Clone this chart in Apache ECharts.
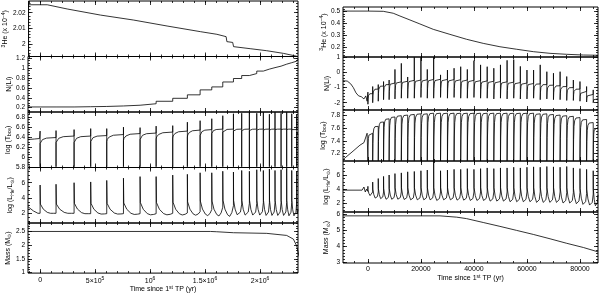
<!DOCTYPE html>
<html><head><meta charset="utf-8">
<script src="https://cdn.jsdelivr.net/npm/echarts@6/dist/echarts.min.js"></script>
<style>html,body{margin:0;padding:0;background:#fff}#c{width:600px;height:294px}</style>
</head><body><div id="c"></div>
<script>
// ---------------- DATA ----------------
const LX_TICKS = [0, 500000, 1000000, 1500000, 2000000];
const LX_LABELS = ['0', '5×10{sup|5}', '10{sup|6}', '1.5×10{sup|6}', '2×10{sup|6}'];
const RX_TICKS = [0, 20000, 40000, 60000, 80000];
const RX_LABELS = ['0', '20000', '40000', '60000', '80000'];

const L_HE3_T = [-110000, 60000, 242000, 545000, 848000, 1152000, 1455000, 1606000, 1690000, 1697000, 1750000, 1758000, 1909000, 2060000, 2212000, 2345000];
const L_HE3_V = [2.0251, 2.0251, 2.0224, 2.0185, 2.0153, 2.0115, 2.0079, 2.0062, 2.0047, 2.0015, 2.001, 1.9983, 1.997, 1.9957, 1.994, 1.992];

const L_TP = [0, 145000, 309000, 460000, 606000, 758000, 909000, 1055000, 1206000, 1339000, 1455000, 1561000, 1661000, 1758000, 1833000, 1903000, 1970000, 2030000, 2085000, 2136000, 2191000, 2242000, 2288000, 2333000];
const L_LI_START = 0.215;
const L_LI = [0.215, 0.215, 0.22, 0.225, 0.235, 0.25, 0.28, 0.33, 0.39, 0.46, 0.56, 0.62, 0.72, 0.79, 0.85, 0.89, 0.94, 0.98, 1.01, 1.04, 1.08, 1.11, 1.14, 1.18];
const L_TB_START = [[-110000, 6.35], [-50000, 6.36], [-5000, 6.37]];
const L_TB_UP = [6.52, 6.53, 6.55, 6.57, 6.57, 6.6, 6.59, 6.62, 6.63, 6.7, 6.73, 6.77, 6.83, 6.87, 6.88, 6.9, 6.88, 6.9, 6.86, 6.9, 6.88, 6.9, 6.87, 6.85];
const L_TB_DIP = [5.8, 5.8, 5.8, 5.8, 5.8, 5.8, 5.8, 5.8, 5.8, 5.8, 5.8, 5.8, 5.8, 5.8, 5.8, 5.8, 5.8, 5.8, 5.8, 5.8, 5.8, 5.8, 5.8, 5.8];
const L_TB_AFTER = [6.27, 6.29, 6.29, 6.31, 6.31, 6.33, 6.35, 6.36, 6.38, 6.4, 6.43, 6.47, 6.5, 6.52, 6.53, 6.53, 6.54, 6.54, 6.54, 6.55, 6.55, 6.55, 6.55, 6.5];
const L_TB_BEFORE = [6.39, 6.42, 6.42, 6.43, 6.45, 6.47, 6.48, 6.5, 6.52, 6.54, 6.55, 6.56, 6.56, 6.56, 6.56, 6.56, 6.56, 6.56, 6.56, 6.56, 6.56, 6.56, 6.55, 6.45];
const L_LH_START = [[-110000, 2.86], [-60000, 2.3], [-20000, 2.0]];
const L_LH_PEAK = [5.7, 5.8, 6.0, 6.1, 6.3, 6.6, 6.8, 6.8, 7.0, 7.1, 7.3, 7.3, 7.5, 7.4, 7.6, 7.5, 7.7, 7.6, 7.8, 7.6, 7.7, 7.9, 7.6, 7.5];
const L_LH_POST = [3.2, 3.2, 3.3, 3.3, 3.3, 3.35, 3.4, 3.4, 3.45, 3.5, 3.6, 3.6, 3.7, 3.7, 3.7, 3.7, 3.7, 3.7, 3.7, 3.7, 3.7, 3.7, 3.7, 3.6];
const L_LH_LOW = [2.0, 2.0, 1.95, 1.9, 1.9, 1.85, 1.8, 1.8, 1.78, 1.75, 1.7, 1.65, 1.6, 1.6, 1.55, 1.55, 1.55, 1.5, 1.5, 1.5, 1.5, 1.45, 1.45, 1.8];
const L_LH_PRE = [2.0, 2.0, 1.95, 1.95, 1.95, 1.95, 1.95, 2.0, 2.05, 2.2, 2.5, 2.8, 3.0, 3.2, 3.3, 3.3, 3.4, 3.4, 3.4, 3.4, 3.4, 3.4, 3.4, 2.5];
const L_M_T = [-110000, 1550000, 1606000, 1758000, 2061000, 2242000, 2303000, 2333000, 2355000];
const L_M_V = [2.5, 2.5, 2.49, 2.454, 2.43, 2.355, 2.22, 1.97, 1.58];

const R_HE3_T = [-9400, 0, 5800, 9550, 12075, 15850, 19600, 24650, 30940, 37230, 43500, 49800, 56100, 62400, 68700, 75000, 81300, 86800];
const R_HE3_V = [0.505, 0.505, 0.503, 0.487, 0.464, 0.431, 0.398, 0.353, 0.311, 0.27, 0.236, 0.208, 0.187, 0.167, 0.153, 0.145, 0.139, 0.137];

const R_TP = [0, 1800, 3900, 5900, 8000, 10200, 12600, 15000, 17500, 20000, 22400, 24800, 27400, 30000, 32500, 35000, 37500, 40000, 42500, 45000, 47500, 50000, 52500, 55000, 57500, 60000, 62500, 65000, 67500, 70000, 72500, 75000, 77500, 80000, 82500, 85000];

const R_LI_START = [[-9400, -0.55], [-7800, -0.57], [-6500, -0.75], [-5500, -1.0], [-4500, -1.35], [-3500, -1.55], [-2500, -1.6], [-1500, -1.75], [-800, -1.55], [-300, -1.9]];
const R_LI_PEAK = [-1.3, -0.93, -0.8, -0.6, -0.5, 0.2, 0.6, -0.3, 1.0, 1.0, 0.2, 1.0, -0.16, 0.16, 0.28, 0.38, 0.2, 0.78, 0.5, 0.38, 0.28, 0.5, 0.8, 0.85, 0.4, 0.16, 0.16, 0.5, 0.05, -0.05, 0.05, -0.27, -0.5, -0.6, -0.93, -1.15];
const R_LI_LOW = [-2.1, -2.0, -1.9, -1.8, -1.8, -1.75, -1.7, -1.7, -1.7, -1.65, -1.7, -1.7, -1.65, -1.7, -1.65, -1.7, -1.7, -1.65, -1.7, -1.7, -1.75, -1.7, -1.75, -1.7, -1.75, -1.75, -1.7, -1.8, -1.75, -1.8, -1.8, -1.85, -1.85, -1.9, -1.95, -2.0];
const R_LI_PLAT = [-1.4, -1.1, -0.9, -0.8, -0.7, -0.62, -0.58, -0.52, -0.5, -0.48, -0.46, -0.45, -0.46, -0.47, -0.48, -0.5, -0.52, -0.54, -0.56, -0.58, -0.6, -0.62, -0.64, -0.67, -0.7, -0.73, -0.76, -0.8, -0.84, -0.88, -0.93, -1.0, -1.1, -1.25, -1.45, -1.75];

const R_TB_START = [[-9400, 7.1], [-6000, 7.22], [-3000, 7.33], [-1500, 7.37], [-800, 7.4], [-300, 7.52]];
const R_TB_TOP = [7.52, 7.63, 7.7, 7.75, 7.78, 7.8, 7.81, 7.82, 7.83, 7.83, 7.84, 7.84, 7.84, 7.84, 7.84, 7.84, 7.84, 7.84, 7.84, 7.84, 7.84, 7.84, 7.84, 7.84, 7.84, 7.84, 7.83, 7.83, 7.82, 7.81, 7.8, 7.79, 7.77, 7.74, 7.69, 7.61];
const R_TB_BOT = [7.08, 7.08, 7.08, 7.08, 7.08, 7.08, 7.08, 7.08, 7.08, 7.08, 7.08, 7.08, 7.08, 7.08, 7.08, 7.08, 7.08, 7.08, 7.08, 7.08, 7.08, 7.08, 7.08, 7.08, 7.08, 7.08, 7.08, 7.08, 7.08, 7.08, 7.08, 7.08, 7.08, 7.08, 7.08, 7.08];

const R_LH_START = [[-9400, 3.86], [-2200, 3.86], [-1500, 4.3], [-1000, 3.6], [-500, 4.0], [-100, 3.7]];
const R_LH_PEAK = [4.4, 5.0, 5.5, 5.8, 6.0, 6.2, 6.3, 6.45, 6.5, 6.6, 6.7, 8.0, 6.6, 6.7, 6.8, 6.8, 6.9, 6.8, 6.9, 7.0, 6.9, 7.0, 7.0, 7.1, 7.0, 7.1, 7.15, 7.1, 7.2, 7.15, 7.1, 7.2, 7.0, 6.9, 6.8, 6.6];
const R_LH_POST = [3.9, 4.0, 4.1, 4.1, 4.1, 4.2, 4.2, 4.2, 4.2, 4.2, 4.2, 4.2, 4.2, 4.2, 4.2, 4.2, 4.2, 4.2, 4.2, 4.2, 4.2, 4.2, 4.2, 4.2, 4.2, 4.2, 4.2, 4.2, 4.2, 4.2, 4.2, 4.2, 4.1, 4.1, 4.0, 4.0];
const R_LH_LOW = [3.0, 2.6, 2.5, 2.4, 2.4, 2.4, 2.35, 2.3, 2.3, 2.3, 2.3, 2.2, 2.3, 2.3, 2.25, 2.25, 2.2, 2.2, 2.2, 2.1, 2.1, 2.1, 2.0, 2.0, 2.0, 2.0, 1.9, 1.9, 1.9, 1.9, 1.8, 1.8, 1.7, 1.6, 1.5, 1.4];
const R_LH_PRE = [3.6, 3.6, 3.6, 3.6, 3.6, 3.6, 3.6, 3.6, 3.6, 3.6, 3.6, 3.6, 3.6, 3.6, 3.6, 3.6, 3.6, 3.6, 3.6, 3.6, 3.6, 3.6, 3.6, 3.6, 3.6, 3.6, 3.6, 3.6, 3.6, 3.6, 3.5, 3.5, 3.5, 3.4, 3.3, 3.2];

const R_M_T = [-9400, 27200, 33500, 37200, 43500, 49800, 56100, 62400, 68700, 75000, 81300, 86800];
const R_M_V = [5.9, 5.9, 5.82, 5.73, 5.49, 5.25, 5.0, 4.75, 4.48, 4.2, 3.94, 3.67];

// ---------------- SHAPE TEMPLATES ----------------
const DECAY = [[0.02, 1], [0.2, 0.45], [0.45, 0.1], [0.65, 0]];
const RISE = [[0.85, 0.35]];
const ARCH = [[0.04, 0.5], [0.1, 0.8], [0.2, 0.93], [0.4, 0.99]];
const TB_L = [[0.03, 0.3], [0.15, 0.65], [0.4, 0.9]];

function zip(t, v) { return t.map((x, i) => [x, v[i]]); }
function pulsesLum(times, peak, post, low, pre, start, xmax) {
  const d = start.slice();
  for (let i = 0; i < times.length; i++) {
    const t = times[i], t1 = i < times.length - 1 ? times[i + 1] : xmax, D = t1 - t;
    const prev = i === 0 ? start[start.length - 1][1] : pre[i - 1];
    d.push([t, prev], [t, peak[i]]);
    DECAY.forEach(([f, k]) => d.push([t + f * D, low[i] + k * (post[i] - low[i])]));
    RISE.forEach(([f, k]) => d.push([t + f * D, low[i] + k * (pre[i] - low[i])]));
    d.push([t1, pre[i]]);
  }
  return d;
}
function pulsesArch(times, peak, low, top, start, xmax) {
  const d = start.slice();
  for (let i = 0; i < times.length; i++) {
    const t = times[i], t1 = i < times.length - 1 ? times[i + 1] : xmax, D = t1 - t;
    const prev = i === 0 ? start[start.length - 1][1] : top[i - 1];
    d.push([t, prev]);
    if (peak) d.push([t, peak[i]]);
    d.push([t, low[i]]);
    ARCH.forEach(([f, k]) => d.push([t + f * D, low[i] + k * (top[i] - low[i])]));
    d.push([t1, top[i]]);
  }
  return d;
}
function pulsesTbL(times, up, dip, after, before, start, xmax) {
  const d = start.slice();
  for (let i = 0; i < times.length; i++) {
    const t = times[i], t1 = i < times.length - 1 ? times[i + 1] : xmax, D = t1 - t;
    const prev = i === 0 ? start[start.length - 1][1] : before[i - 1];
    d.push([t, prev], [t, up[i]], [t, dip[i]], [t, after[i]]);
    TB_L.forEach(([f, k]) => d.push([t + f * D, after[i] + k * (before[i] - after[i])]));
    d.push([t1, before[i]]);
  }
  return d;
}
function stairs(times, vals, x0, v0, xmax) {
  const d = [[x0, v0]];
  times.forEach((t, i) => d.push([t, vals[i]]));
  d.push([xmax, vals[vals.length - 1]]);
  return d;
}

// ---------------- LAYOUT ----------------
const LX = [-110000, 2345000], RX = [-9400, 86800];
const FONT = "'Liberation Sans','DejaVu Sans',sans-serif";
const RICH = {
  sup: { fontSize: 5, verticalAlign: 'top', lineHeight: 9, fontFamily: FONT, color: '#000' },
  sub: { fontSize: 5, verticalAlign: 'bottom', lineHeight: 9, fontFamily: FONT, color: '#000' }
};
const NAMES = ['{sup|3}He (x 10{sup|−4})', 'N(Li)', 'log (T{sub|bce})', 'log (L{sub|He}/L{sub|⊙})', 'Mass (M{sub|⊙})'];

const panels = [
  { left: 28, width: 270, top: 1, height: 55.5, xr: LX, yr: [1.992, 2.0275], yMaj: [2, 2.01, 2.02], yStep: 0.002 },
  { left: 28, width: 270, top: 56.5, height: 55.5, xr: LX, yr: [0.113, 1.235], yMaj: [0.2, 0.4, 0.6, 0.8, 1, 1.2], yStep: 0.05 },
  { left: 28, width: 270, top: 112, height: 55.5, xr: LX, yr: [5.785, 6.905], yMaj: [5.8, 6, 6.2, 6.4, 6.6, 6.8], yStep: 0.05 },
  { left: 28, width: 270, top: 167.5, height: 55.5, xr: LX, yr: [0.73, 7.99], yMaj: [2, 4, 6], yStep: 0.5 },
  { left: 28, width: 270, top: 223, height: 55.5, xr: LX, yr: [0.975, 2.81], yMaj: [1, 1.5, 2, 2.5], yStep: 0.1, bottom: true },
  { left: 343, width: 255, top: 7, height: 50, xr: RX, yr: [0.1225, 0.539], yMaj: [0.2, 0.3, 0.4, 0.5], yStep: 0.02 },
  { left: 343, width: 255, top: 57, height: 53, xr: RX, yr: [-2.48, 1.02], yMaj: [-2, -1, 0, 1], yStep: 0.2 },
  { left: 343, width: 255, top: 110, height: 51, xr: RX, yr: [7.077, 7.891], yMaj: [7.2, 7.4, 7.6, 7.8], yStep: 0.05 },
  { left: 343, width: 255, top: 161, height: 51, xr: RX, yr: [0.77, 7.98], yMaj: [2, 4, 6], yStep: 0.5 },
  { left: 343, width: 255, top: 212, height: 51, xr: RX, yr: [2.98, 6.14], yMaj: [3, 4, 5, 6], yStep: 0.2, bottom: true }
];

function range(min, max, step) {
  const a = [];
  for (let k = Math.ceil(min / step - 1e-9); k * step <= max + 1e-9; k++) a.push(+(k * step).toFixed(6));
  return a;
}

const grids = [], xAxes = [], yAxes = [], mainX = [], mainY = [];
const tickStyle = { color: '#000', width: 0.8 };
panels.forEach((p, g) => {
  const isLeft = g < 5;
  grids.push({ left: p.left, top: p.top, width: p.width, height: p.height, show: true, borderColor: '#000', borderWidth: 1, backgroundColor: 'transparent', containLabel: false });
  const xMaj = isLeft ? LX_TICKS : RX_TICKS;
  const xMin = isLeft ? range(p.xr[0], p.xr[1], 100000) : range(p.xr[0], p.xr[1], 5000);
  const xLab = isLeft ? LX_LABELS : RX_LABELS;
  const yMin = range(p.yr[0], p.yr[1], p.yStep);
  const base = () => ({ type: 'value', gridIndex: g, axisLine: { show: false, onZero: false }, splitLine: { show: false } });
  ['bottom', 'top'].forEach(pos => {
    const main = Object.assign(base(), {
      position: pos, min: p.xr[0], max: p.xr[1],
      axisTick: { show: true, inside: true, length: 4, customValues: xMaj, lineStyle: tickStyle },
      axisLabel: { show: pos === 'bottom' && !!p.bottom, customValues: xMaj, margin: 3, fontSize: 7, fontFamily: FONT, color: '#000',
        rich: RICH, formatter: v => { const i = xMaj.findIndex(m => Math.abs(m - v) < 1e-6); return i >= 0 ? xLab[i] : ''; } }
    });
    if (pos === 'bottom' && p.bottom) {
      Object.assign(main, { name: 'Time since 1{sup|st} TP (yr)', nameLocation: 'middle', nameGap: 8,
        nameTextStyle: { fontSize: 7, fontFamily: FONT, color: '#000', rich: RICH } });
    }
    if (pos === 'bottom') mainX.push(xAxes.length);
    xAxes.push(main);
    xAxes.push(Object.assign(base(), {
      position: pos, min: p.xr[0], max: p.xr[1],
      axisTick: { show: true, inside: true, length: 2, customValues: xMin, lineStyle: tickStyle },
      axisLabel: { show: false }
    }));
  });
  ['left', 'right'].forEach(pos => {
    const main = Object.assign(base(), {
      position: pos, min: p.yr[0], max: p.yr[1],
      axisTick: { show: true, inside: true, length: 4, customValues: p.yMaj, lineStyle: tickStyle },
      axisLabel: { show: pos === 'left', customValues: p.yMaj, margin: 3, fontSize: 6.5, fontFamily: FONT, color: '#000' }
    });
    if (pos === 'left') {
      Object.assign(main, { name: NAMES[g % 5], nameLocation: 'middle', nameRotate: 90, nameGap: isLeft ? 13 : 12,
        nameTextStyle: { fontSize: 7, fontFamily: FONT, color: '#000', rich: RICH } });
      mainY.push(yAxes.length);
    }
    yAxes.push(main);
    yAxes.push(Object.assign(base(), {
      position: pos, min: p.yr[0], max: p.yr[1],
      axisTick: { show: true, inside: true, length: 2, customValues: yMin, lineStyle: tickStyle },
      axisLabel: { show: false }
    }));
  });
});

const seriesData = [
  zip(L_HE3_T, L_HE3_V),
  stairs(L_TP, L_LI, LX[0], L_LI_START, LX[1]),
  pulsesTbL(L_TP, L_TB_UP, L_TB_DIP, L_TB_AFTER, L_TB_BEFORE, L_TB_START, LX[1]),
  pulsesLum(L_TP, L_LH_PEAK, L_LH_POST, L_LH_LOW, L_LH_PRE, L_LH_START, LX[1]),
  zip(L_M_T, L_M_V),
  zip(R_HE3_T, R_HE3_V),
  pulsesArch(R_TP, R_LI_PEAK, R_LI_LOW, R_LI_PLAT, R_LI_START, RX[1]),
  pulsesArch(R_TP, null, R_TB_BOT, R_TB_TOP, R_TB_START, RX[1]),
  pulsesLum(R_TP, R_LH_PEAK, R_LH_POST, R_LH_LOW, R_LH_PRE, R_LH_START, RX[1]),
  zip(R_M_T, R_M_V)
];
const series = seriesData.map((d, g) => ({
  type: 'line', data: d, xAxisIndex: mainX[g], yAxisIndex: mainY[g],
  showSymbol: false, symbol: 'none', clip: true, step: g === 1 ? 'end' : false,
  lineStyle: { color: '#000', width: 0.8 }, silent: true
}));

const chart = echarts.init(document.getElementById('c'), null, { renderer: 'canvas' });
chart.setOption({ animation: false, backgroundColor: '#fff', grid: grids, xAxis: xAxes, yAxis: yAxes, series: series });
</script></body></html>
